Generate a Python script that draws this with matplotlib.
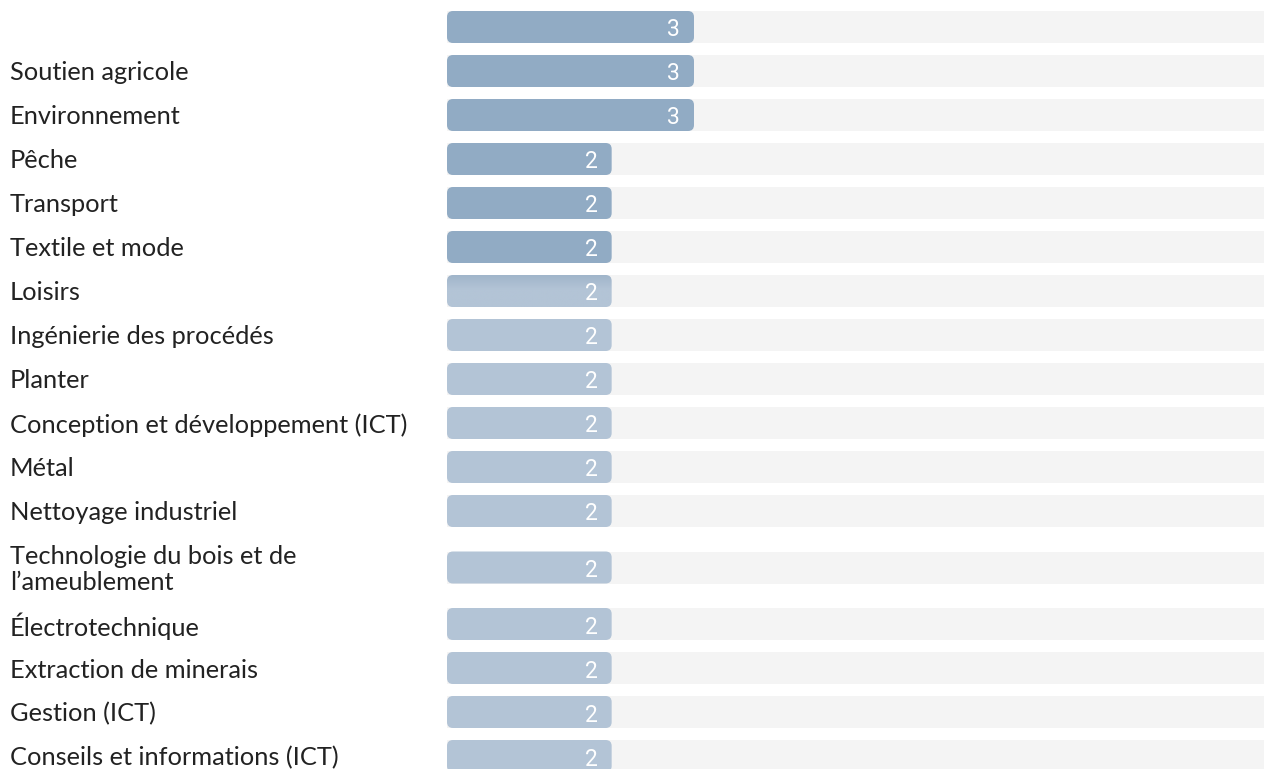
import numpy as np
import matplotlib
matplotlib.use("Agg")
import matplotlib.pyplot as plt
from matplotlib.patches import FancyBboxPatch
from matplotlib.transforms import blended_transform_factory

# Données
labels = ["", "Soutien agricole", "Environnement", "Pêche", "Transport",
          "Textile et mode", "Loisirs", "Ingénierie des procédés", "Planter",
          "Conception et développement (ICT)", "Métal", "Nettoyage industriel",
          "Technologie du bois et de\nl’ameublement", "Électrotechnique",
          "Extraction de minerais", "Gestion (ICT)",
          "Conseils et informations (ICT)"]
values = [3, 3, 3, 2, 2, 2, 2, 2, 2, 2, 2, 2, 2, 2, 2, 2, 2]
highlighted = [True] * 6 + [False] * 11
track_max = 10

dark = "#91abc4"
light = "#b3c4d6"
track = "#f4f4f4"
text_col = "#222222"

W, H = 1264, 769
fig = plt.figure(figsize=(W / 100, H / 100), dpi=100)
x0 = 447
ax = fig.add_axes([x0 / W, 0, 1 - x0 / W, 1])
px_per_unit = 82.33
ax.set_xlim(0, (W - x0) / px_per_unit)
ax.set_ylim(H, 0)
ax.axis("off")

# positions des lignes (en pixels), ligne double plus haute
centers = []
y = 27
for i, lab in enumerate(labels):
    if i > 0:
        prev_two = "\n" in labels[i - 1]
        cur_two = "\n" in lab
        y += 44 + (12.5 if prev_two else 0) + (12.5 if cur_two else 0)
    centers.append(y)
centers = np.array(centers)
bar_h = 32

# pistes grises
ax.barh(centers, [track_max] * len(values), height=bar_h, color=track, zorder=1)

# barres arrondies
r = 6 / px_per_unit
for i, (c, v) in enumerate(zip(centers, values)):
    col = dark if highlighted[i] else light
    p = FancyBboxPatch((0, c - bar_h / 2), v, bar_h,
                       boxstyle=f"round,pad=0,rounding_size={r}",
                       mutation_aspect=px_per_unit,
                       facecolor=col, edgecolor="none", zorder=2)
    ax.add_patch(p)
    if labels[i] == "Loisirs":
        # léger dégradé (transition)
        p.set_facecolor("none")
        grad = np.linspace(0, 1, 100).reshape(-1, 1)
        c1 = np.array(matplotlib.colors.to_rgb("#a0b5ca"))
        c2 = np.array(matplotlib.colors.to_rgb(light))
        t = np.clip(grad / 0.45, 0, 1)
        img = c1 * (1 - t[..., None]) + c2 * t[..., None]
        img = np.repeat(img, 2, axis=1)
        im = ax.imshow(img, extent=(0, v, c + bar_h / 2, c - bar_h / 2),
                       aspect="auto", zorder=2, interpolation="bilinear")
        im.set_clip_path(p)
    ax.text(v - 14 / px_per_unit, c + 3, str(v), ha="right", va="center",
            color="white", fontsize=16.5, family="Roboto", zorder=3)

# étiquettes
trans = blended_transform_factory(fig.transFigure, ax.transData)
for lab, c in zip(labels, centers):
    fig.text(10 / W, c + 2, lab, transform=trans, ha="left", va="center",
             fontsize=18.3, family="Lato", color=text_col, linespacing=1.12)

ax.set_xlim(0, (W - x0) / px_per_unit)
ax.set_ylim(H, 0)
fig.savefig("out.png", dpi=100)
